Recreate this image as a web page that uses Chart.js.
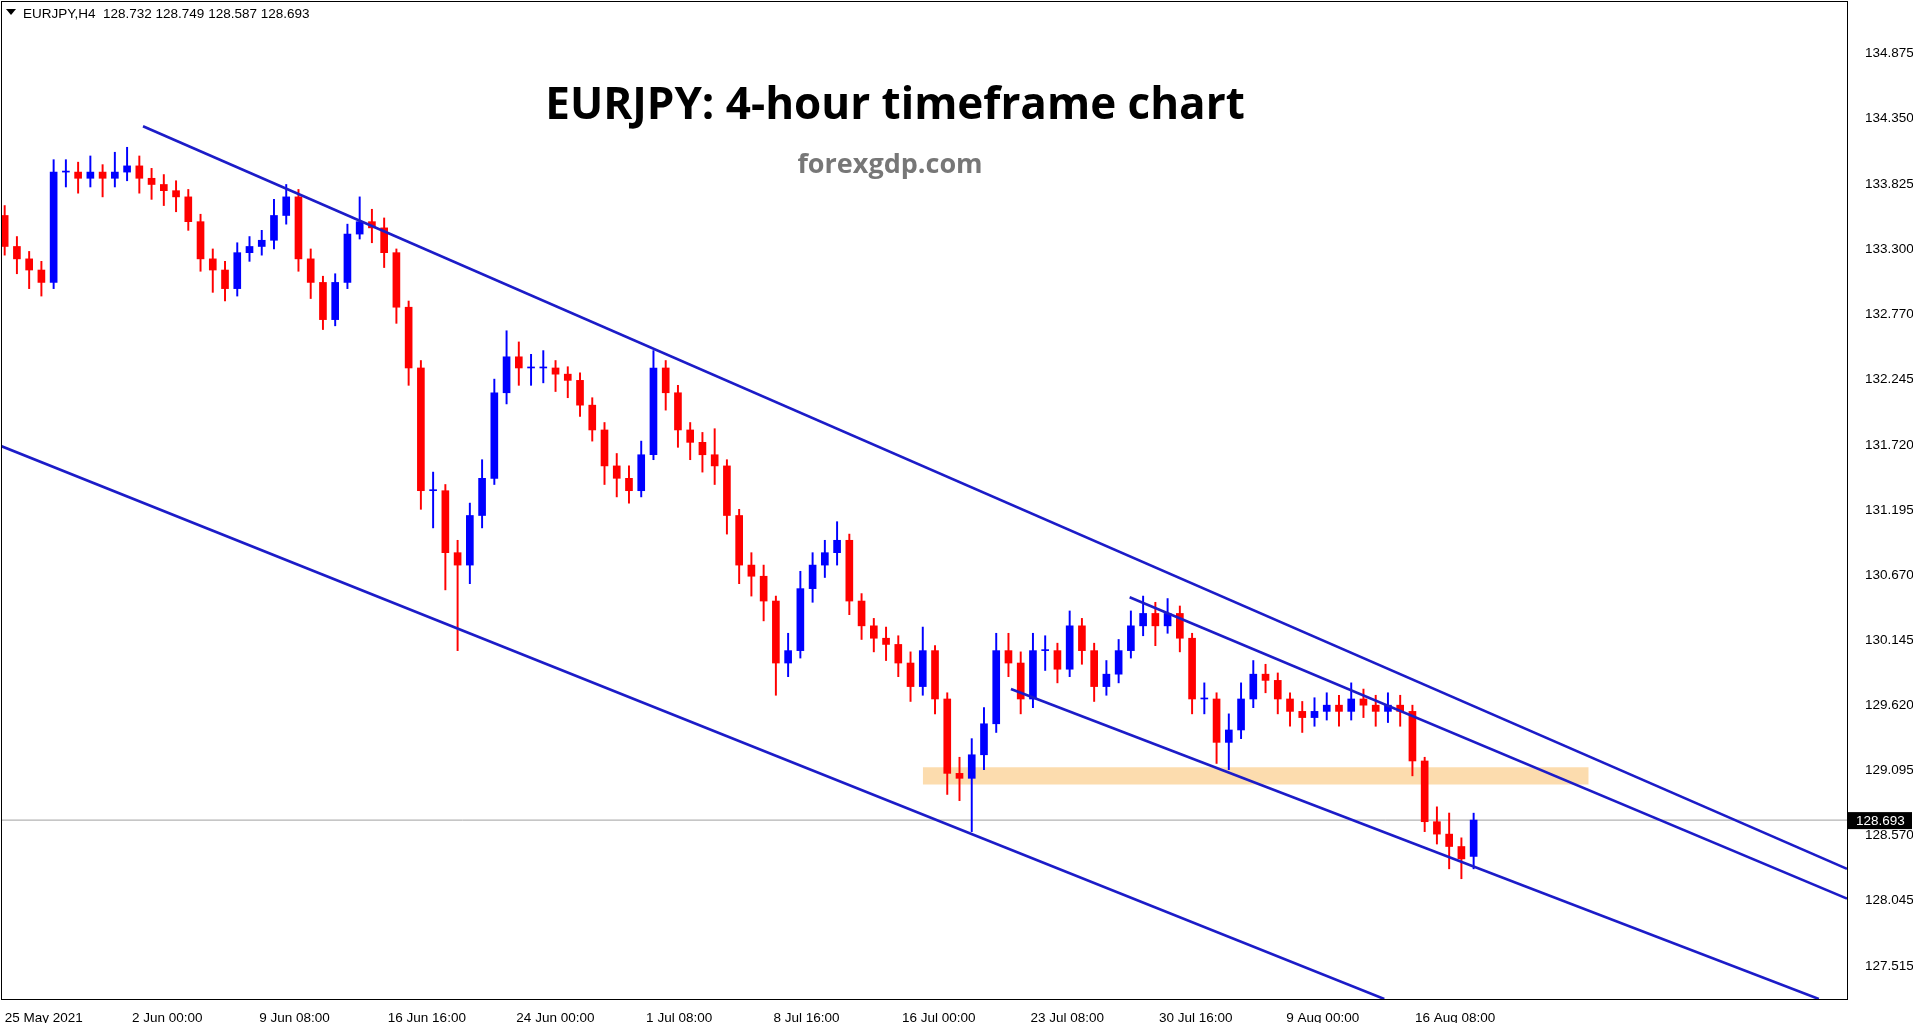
<!DOCTYPE html>
<html><head><meta charset="utf-8">
<script src="https://cdn.jsdelivr.net/npm/chart.js@4"></script>
<style>html,body{margin:0;padding:0;background:#fff;overflow:hidden}canvas{display:block}</style>
</head><body><canvas id="c" width="1913" height="1023" style="width:1913px;height:1023px"></canvas>
<script>
const closes=[133.32,133.22,133.13,133.03,133.92,133.92,133.87,133.92,133.87,133.92,133.97,133.87,133.82,133.77,133.72,133.52,133.22,133.13,132.98,133.27,133.32,133.37,133.57,133.72,133.22,133.03,132.73,133.03,133.42,133.52,133.47,133.27,132.83,132.34,131.35,131.35,130.85,130.75,131.15,131.45,132.14,132.43,132.34,132.34,132.34,132.29,132.24,132.04,131.84,131.55,131.45,131.35,131.64,132.34,132.14,131.84,131.74,131.64,131.55,131.15,130.75,130.66,130.46,129.96,130.06,130.56,130.75,130.85,130.95,130.46,130.26,130.16,130.11,129.96,129.77,130.06,129.67,129.07,129.03,129.22,129.47,130.06,129.96,129.67,130.06,130.06,129.91,130.26,130.06,129.77,129.87,130.06,130.26,130.36,130.26,130.36,130.16,129.67,129.67,129.32,129.42,129.67,129.87,129.82,129.67,129.57,129.52,129.57,129.62,129.57,129.67,129.62,129.57,129.62,129.57,129.17,128.68,128.58,128.48,128.38,128.693];
const opens=[133.57,133.32,133.22,133.13,133.03,133.92,133.92,133.87,133.92,133.87,133.92,133.97,133.87,133.82,133.77,133.72,133.52,133.22,133.13,132.98,133.27,133.32,133.37,133.57,133.72,133.22,133.03,132.73,133.03,133.42,133.52,133.47,133.27,132.83,132.34,131.35,131.35,130.85,130.75,131.15,131.45,132.14,132.43,132.34,132.34,132.34,132.29,132.24,132.04,131.84,131.55,131.45,131.35,131.64,132.34,132.14,131.84,131.74,131.64,131.55,131.15,130.75,130.66,130.46,129.96,130.06,130.56,130.75,130.85,130.95,130.46,130.26,130.16,130.11,129.96,129.77,130.06,129.67,129.07,129.03,129.22,129.47,130.06,129.96,129.67,130.06,130.06,129.91,130.26,130.06,129.77,129.87,130.06,130.26,130.36,130.26,130.36,130.16,129.67,129.67,129.32,129.42,129.67,129.87,129.82,129.67,129.57,129.52,129.57,129.62,129.57,129.67,129.62,129.57,129.62,129.57,129.17,128.68,128.58,128.48,128.40];
const highs=[133.65,133.40,133.28,133.20,134.02,134.02,134.00,134.05,133.98,134.08,134.12,134.05,133.95,133.90,133.85,133.78,133.58,133.30,133.20,133.35,133.40,133.45,133.70,133.82,133.78,133.30,133.08,133.10,133.50,133.72,133.62,133.55,133.30,132.88,132.40,131.50,131.40,130.95,131.25,131.60,132.25,132.64,132.55,132.45,132.48,132.40,132.35,132.30,132.10,131.90,131.65,131.55,131.75,132.48,132.40,132.20,131.90,131.82,131.85,131.60,131.20,130.85,130.75,130.50,130.20,130.70,130.85,130.95,131.10,131.00,130.52,130.32,130.25,130.18,130.05,130.25,130.10,129.72,129.20,129.35,129.60,130.20,130.20,130.05,130.20,130.18,130.12,130.38,130.32,130.12,129.98,130.15,130.38,130.50,130.45,130.48,130.42,130.20,129.80,129.72,129.55,129.80,129.98,129.95,129.88,129.72,129.65,129.68,129.72,129.70,129.80,129.75,129.70,129.72,129.70,129.62,129.20,128.80,128.75,128.55,128.749];
const lows=[133.25,133.10,132.98,132.92,132.98,133.80,133.75,133.80,133.72,133.80,133.85,133.75,133.70,133.65,133.60,133.45,133.12,132.95,132.88,132.92,133.20,133.25,133.30,133.50,133.12,132.90,132.65,132.68,132.98,133.38,133.35,133.15,132.70,132.20,131.20,131.05,130.55,130.06,130.60,131.05,131.40,132.05,132.20,132.20,132.22,132.15,132.10,131.95,131.75,131.40,131.30,131.25,131.30,131.60,132.00,131.70,131.60,131.50,131.40,131.00,130.60,130.50,130.30,129.70,129.85,130.00,130.45,130.65,130.75,130.35,130.15,130.05,129.98,129.85,129.65,129.70,129.55,128.90,128.85,128.60,129.10,129.40,129.85,129.55,129.60,129.90,129.80,129.85,129.95,129.65,129.70,129.80,130.00,130.18,130.10,130.20,130.05,129.55,129.55,129.15,129.10,129.35,129.60,129.72,129.55,129.45,129.40,129.45,129.50,129.45,129.50,129.52,129.45,129.48,129.45,129.05,128.60,128.50,128.30,128.22,128.30];
const yTicks=[127.515,128.045,128.570,129.095,129.620,130.145,130.670,131.195,131.720,132.245,132.770,133.300,133.825,134.350,134.875];
const xTickPos=[0,10.4,20.8,31.3,41.8,52.4,62.8,73.3,83.8,94.3,104.7,115.2];
const xTickLabels=["25 May 2021","2 Jun 00:00","9 Jun 08:00","16 Jun 16:00","24 Jun 00:00","1 Jul 08:00","8 Jul 16:00","16 Jul 00:00","23 Jul 08:00","30 Jul 16:00","9 Aug 00:00","16 Aug 08:00"];
const trendTop=[[11.3,134.29],[150.5,128.30]];
const channelLow=[[-0.3,131.71],[112.7,127.25]];
const trendInner=[[91.9,130.49],[150.5,128.06]];
const supportLine=[[82.2,129.75],[148.2,127.25]];
const zoneX=[75.0,129.4], zoneY=[128.98,129.12];
const lastPrice=128.693;

const BLUE='#0000ff', RED='#ff0000', LINE='#1c1cc8';
const colr=closes.map((c,i)=>c>=opens[i]?BLUE:RED);
const lineDs=(pts)=>({type:'line',data:pts.map(p=>({x:p[0],y:p[1]})),borderColor:LINE,borderWidth:2.6,pointRadius:0,fill:false,order:0});
const noPad=s=>{s.paddingLeft=0;s.paddingRight=0;s.paddingTop=0;s.paddingBottom=0;};

const overlay={id:'overlay',afterDraw(ch){
  const g=ch.ctx,ca=ch.chartArea,y=ch.scales.y;
  const py=y.getPixelForValue(lastPrice);
  g.save();
  g.strokeStyle='#000';g.lineWidth=1;g.strokeRect(ca.left+0.5,ca.top+0.5,ca.right-ca.left,ca.bottom-ca.top);
  g.fillStyle='#000';g.fillRect(ca.right+1,py-8,64,17);
  g.fillStyle='#fff';g.font='13.5px "Liberation Sans"';g.textBaseline='middle';g.textAlign='left';
  g.fillText(lastPrice.toFixed(3),ca.right+9,py+1);
  g.fillStyle='#000';
  g.beginPath();g.moveTo(6,9);g.lineTo(16,9);g.lineTo(11,15);g.closePath();g.fill();
  g.fillText('EURJPY,H4  128.732 128.749 128.587 128.693',23,14);
  g.textAlign='center';g.font='bold 44px "Open Sans"';
  g.fillText('EURJPY: 4-hour timeframe chart',895,106);
  g.font='bold 27px "Open Sans"';g.fillStyle='#777';
  g.fillText('forexgdp.com',890,165);
  g.restore();
}};

new Chart(document.getElementById('c'),{
  type:'bar',
  data:{datasets:[
    {type:'line',data:[{x:zoneX[0],y:zoneY[1]},{x:zoneX[1],y:zoneY[1]}],borderWidth:0,pointRadius:0,order:5},
    {type:'line',data:[{x:zoneX[0],y:zoneY[0]},{x:zoneX[1],y:zoneY[0]}],borderWidth:0,pointRadius:0,fill:'-1',backgroundColor:'rgba(252,214,160,0.85)',order:5},
    {type:'line',data:[{x:-0.3,y:lastPrice},{x:150.5,y:lastPrice}],borderColor:'#a0a0a0',borderWidth:1,pointRadius:0,order:4},
    {data:closes.map((c,i)=>({x:i,y:[lows[i],highs[i]]})),backgroundColor:colr,barThickness:1.3,grouped:false,order:2},
    {data:closes.map((c,i)=>({x:i,y:[opens[i],c]})),backgroundColor:colr,barThickness:7,minBarLength:1,grouped:false,order:1},
    lineDs(trendTop),lineDs(channelLow),lineDs(trendInner),lineDs(supportLine)
  ]},
  options:{responsive:false,animation:false,devicePixelRatio:1,
    layout:{padding:{left:1,top:1,right:0,bottom:0}},
    plugins:{legend:{display:false},tooltip:{enabled:false}},
    scales:{
      x:{type:'linear',offset:false,min:-0.3,max:150.5,grid:{display:false,offset:false},border:{color:'#000'},
        afterBuildTicks(s){s.ticks=xTickPos.map(v=>({value:v}));},
        afterFit(s){s.height=24;noPad(s);},
        ticks:{autoSkip:false,maxRotation:0,minRotation:0,align:'start',padding:3,color:'#000',font:{family:'Liberation Sans',size:13.5},callback:(v,i)=>xTickLabels[i]}},
      y:{position:'right',min:127.25,max:135.30,grid:{display:false},border:{color:'#000'},
        afterBuildTicks(s){s.ticks=yTicks.map(v=>({value:v}));},
        afterFit(s){s.width=66;noPad(s);},
        ticks:{autoSkip:false,padding:10,color:'#000',font:{family:'Liberation Sans',size:13.5},callback:v=>v.toFixed(3)}}
    }},
  plugins:[overlay]
});
</script></body></html>
